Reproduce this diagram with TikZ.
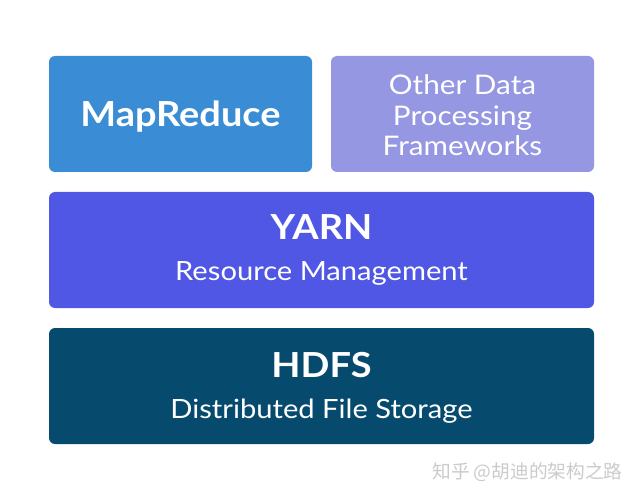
\documentclass[tikz,border=0pt]{standalone}
\usepackage{fontspec}
\setmainfont{Lato}
\newfontfamily\widelato[FakeStretch=1.10]{Lato}
\newfontfamily\cjk{Noto Sans CJK SC}
\definecolor{mrblue}{HTML}{3A8DD5}
\definecolor{otherlav}{HTML}{9597E2}
\definecolor{yarnblue}{HTML}{4F57E4}
\definecolor{hdfsteal}{HTML}{064A6E}
\definecolor{wmgray}{HTML}{CBCBCB}
\begin{document}
\begin{tikzpicture}[x=1pt,y=-1pt,
  layer/.style={draw=none,rounded corners=6pt},
  title/.style={text=white,font=\widelato\bfseries\fontsize{34.5}{38}\selectfont,anchor=base,inner sep=0pt},
  sub/.style={text=white,font=\widelato\fontsize{26.5}{30}\selectfont,anchor=base,inner sep=0pt},
  other/.style={text=white,font=\widelato\fontsize{27}{30}\selectfont,anchor=base,inner sep=0pt}]
\path[use as bounding box,fill=white] (0,0) rectangle (643,500);
\fill[layer,fill=mrblue] (49,56) rectangle (312,172);
\fill[layer,fill=otherlav] (331,56) rectangle (594,172);
\fill[layer,fill=yarnblue] (49,192) rectangle (594,308);
\fill[layer,fill=hdfsteal] (49,328) rectangle (594,444);
\node[title] (mr) at (180.5,127) {MapReduce};
\node[other] (o1) at (462.5,95) {Other Data};
\node[other] (o2) at (462.5,125.5) {Processing};
\node[other] (o3) at (462.5,156) {Frameworks};
\node[title] (yarn) at (321.5,240) {YARN};
\node[sub] (rm) at (321.5,280) {Resource Management};
\node[title] (hdfs) at (321.5,377) {HDFS};
\node[sub] (dfs) at (321.5,418) {Distributed File Storage};
\node[text=wmgray,font=\cjk\fontsize{18.7}{22}\selectfont,inner sep=0pt] (wm) at (527.5,472) {知乎 @胡迪的架构之路};
\end{tikzpicture}
\end{document}
